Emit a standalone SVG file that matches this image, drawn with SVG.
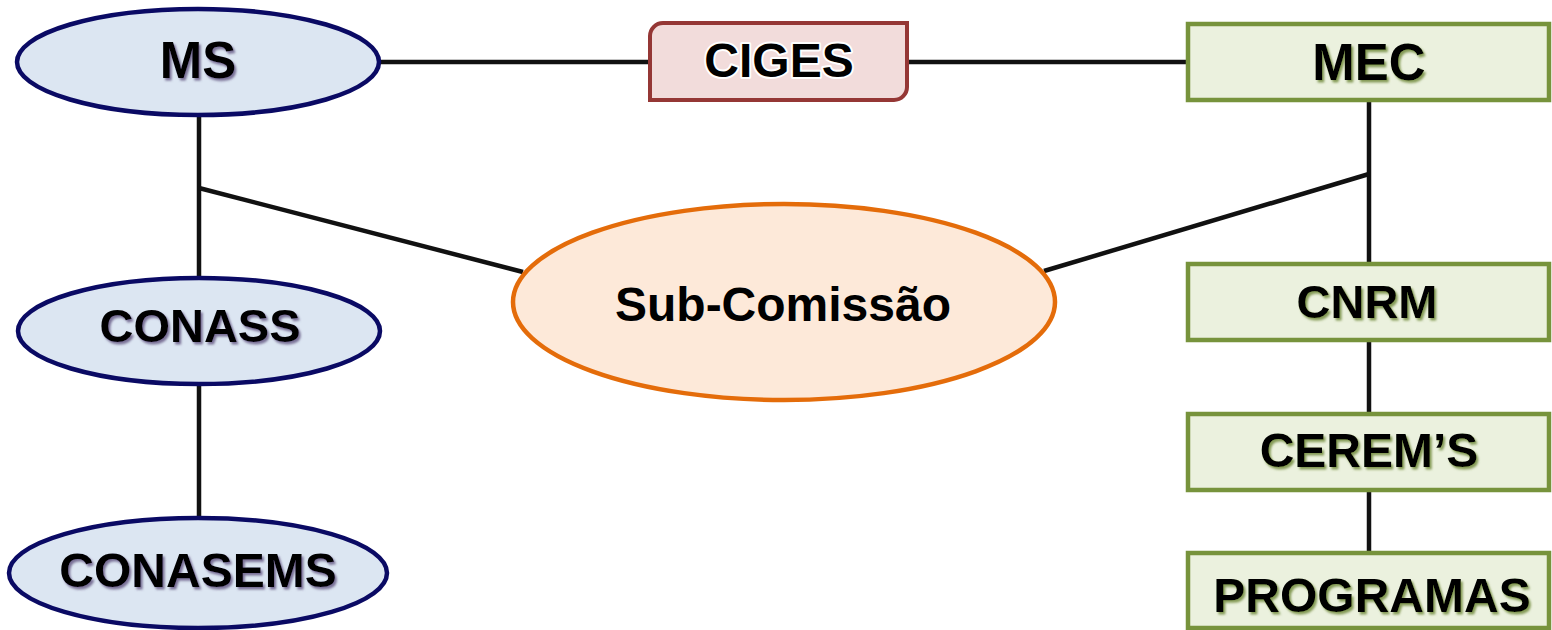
<svg xmlns="http://www.w3.org/2000/svg" width="1552" height="630" viewBox="0 0 1552 630">
<defs>
<filter id="shP" x="-10%" y="-20%" width="130%" height="150%">
<feDropShadow dx="2" dy="2.5" stdDeviation="0.8" flood-color="#5a4a78" flood-opacity="0.75"/>
</filter>
<filter id="shG" x="-10%" y="-20%" width="130%" height="150%">
<feDropShadow dx="2" dy="2.5" stdDeviation="0.8" flood-color="#6a8535" flood-opacity="0.8"/>
</filter>
</defs>
<style>
.lbl{font-family:"Liberation Sans",Arial,sans-serif;font-weight:bold;text-anchor:middle;fill:#000}
.ell{fill:#dce6f2;stroke:#0a0a64;stroke-width:4.5}
.box{fill:#ebf1de;stroke:#77933c;stroke-width:4.5}
.conn line{stroke:#111;stroke-width:4.5}
.p{filter:url(#shP)}
.g{filter:url(#shG)}
</style>
<g class="conn" id="connectors">
<line x1="380" y1="62" x2="650" y2="62"/>
<line x1="907" y1="62" x2="1187" y2="62"/>
<line x1="199" y1="114" x2="199" y2="279"/>
<line x1="199" y1="188" x2="523" y2="272"/>
<line x1="199" y1="384" x2="199" y2="519"/>
<line x1="1369" y1="100" x2="1369" y2="263"/>
<line x1="1369" y1="174" x2="1044" y2="271"/>
<line x1="1369" y1="340" x2="1369" y2="413"/>
<line x1="1369" y1="490" x2="1369" y2="552"/>
</g>
<g id="ms">
<ellipse class="ell" cx="198" cy="62" rx="181" ry="53"/>
<text class="lbl p" x="198" y="78" font-size="51">MS</text>
</g>
<g id="ciges">
<path d="M663,23 H907 V87 A13,13 0 0 1 894,100 H650 V36 A13,13 0 0 1 663,23 Z" fill="#f2dcdb" stroke="#953735" stroke-width="4"/>
<text class="lbl" x="779" y="77" font-size="48" stroke="#fff" stroke-width="4" paint-order="stroke" stroke-linejoin="round">CIGES</text>
</g>
<g id="mec">
<rect class="box" x="1188" y="24" width="361" height="76"/>
<text class="lbl g" x="1369" y="80" font-size="51">MEC</text>
</g>
<g id="subcomissao">
<ellipse cx="784" cy="302" rx="271" ry="98" fill="#fde9d9" stroke="#e46c0a" stroke-width="4.5"/>
<text class="lbl" x="783" y="321" font-size="48">Sub-Comissão</text>
</g>
<g id="conass">
<ellipse class="ell" cx="199" cy="331" rx="181" ry="53"/>
<text class="lbl p" x="200" y="342" font-size="47">CONASS</text>
</g>
<g id="conasems">
<ellipse class="ell" cx="198" cy="573" rx="189" ry="55"/>
<text class="lbl p" x="198" y="587" font-size="48">CONASEMS</text>
</g>
<g id="cnrm">
<rect class="box" x="1188" y="264" width="361" height="76"/>
<text class="lbl g" x="1367" y="318" font-size="47">CNRM</text>
</g>
<g id="cerems">
<rect class="box" x="1188" y="414" width="361" height="76"/>
<text class="lbl g" x="1369" y="467" font-size="48">CEREM’S</text>
</g>
<g id="programas">
<rect class="box" x="1188" y="553" width="361" height="75"/>
<text class="lbl g" x="1372" y="612" font-size="48">PROGRAMAS</text>
</g>
</svg>
